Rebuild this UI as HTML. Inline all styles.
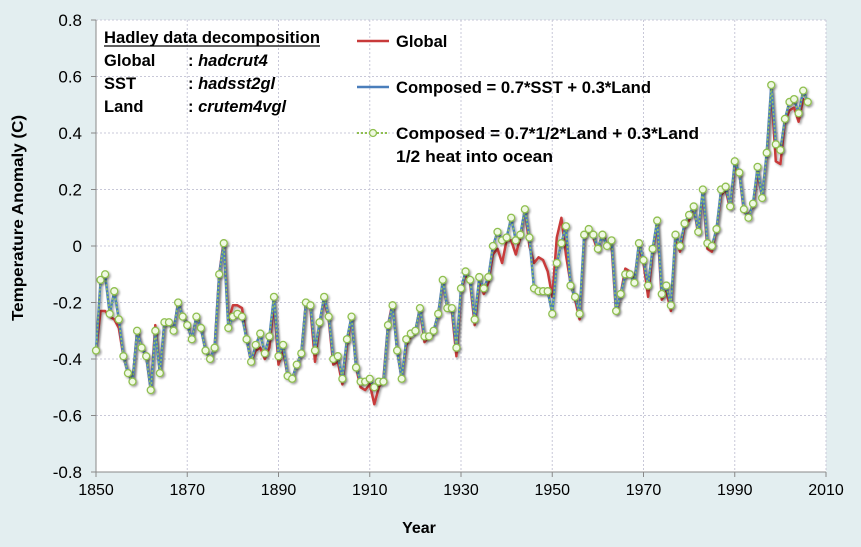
<!DOCTYPE html>
<html><head><meta charset="utf-8"><style>
html,body{margin:0;padding:0;}
body{width:861px;height:542px;background:#e3eef0;font-family:"Liberation Sans",sans-serif;overflow:hidden;}
svg text{font-family:"Liberation Sans",sans-serif;}
</style></head><body>
<svg id="chart" width="861" height="542" xmlns="http://www.w3.org/2000/svg">
<defs><filter id="sh" x="-50%" y="-50%" width="200%" height="200%"><feDropShadow dx="1.5" dy="1.5" stdDeviation="1" flood-color="#000" flood-opacity="0.35"/></filter></defs>
<rect x="96" y="20" width="730" height="452" fill="#fff"/>
<g id="grid"></g>
<g id="axes"></g>
<g id="series"></g>
<g font-weight="bold" font-size="16.5" fill="#000">
<text x="104" y="43" textLength="216" lengthAdjust="spacingAndGlyphs">Hadley data decomposition</text>
<line x1="104" y1="46" x2="320" y2="46" stroke="#000" stroke-width="1.3"/>
<text x="104" y="66">Global</text>
<text x="188" y="66">: <tspan font-style="italic">hadcrut4</tspan></text>
<text x="104" y="89">SST</text>
<text x="188" y="89">: <tspan font-style="italic">hadsst2gl</tspan></text>
<text x="104" y="112">Land</text>
<text x="188" y="112">: <tspan font-style="italic">crutem4vgl</tspan></text>
</g>
<g font-weight="bold" font-size="16.5">
<g><line x1="357" y1="41" x2="389" y2="41" stroke="#c83a3a" stroke-width="2.5"/><text x="396" y="47">Global</text></g>
<g><line x1="357" y1="87" x2="389" y2="87" stroke="#4a7ebb" stroke-width="2.5"/><text x="396" y="93" textLength="255" lengthAdjust="spacingAndGlyphs">Composed = 0.7*SST + 0.3*Land</text></g>
<g><line x1="357" y1="133" x2="389" y2="133" stroke="#8fbf4f" stroke-width="2" stroke-dasharray="2,2"/><circle cx="373" cy="133" r="3.5" fill="#eef8e0" stroke="#8fbf4f" stroke-width="1.3"/><text x="396" y="139" textLength="303" lengthAdjust="spacingAndGlyphs">Composed = 0.7*1/2*Land + 0.3*Land</text><text x="396" y="162" textLength="157" lengthAdjust="spacingAndGlyphs">1/2 heat into ocean</text></g>
</g>
<text x="419" y="533" font-size="16" font-weight="bold" text-anchor="middle">Year</text>
<text transform="translate(23,218) rotate(-90)" font-size="16" font-weight="bold" text-anchor="middle" textLength="206" lengthAdjust="spacingAndGlyphs">Temperature Anomaly (C)</text>
</svg>
<script>
const startYear = 1850;
const composed = [-0.37,-0.12,-0.10,-0.24,-0.16,-0.26,-0.39,-0.45,-0.48,-0.30,-0.36,-0.39,-0.51,-0.30,-0.45,-0.27,-0.27,-0.30,-0.20,-0.25,
-0.28,-0.33,-0.25,-0.29,-0.37,-0.40,-0.36,-0.10,0.01,-0.29,-0.25,-0.24,-0.25,-0.33,-0.41,-0.35,-0.31,-0.38,-0.32,-0.18,
-0.39,-0.35,-0.46,-0.47,-0.42,-0.38,-0.20,-0.21,-0.37,-0.27,-0.18,-0.25,-0.40,-0.39,-0.47,-0.33,-0.25,-0.43,-0.48,-0.48,
-0.47,-0.50,-0.48,-0.48,-0.28,-0.21,-0.37,-0.47,-0.33,-0.31,-0.30,-0.22,-0.32,-0.32,-0.30,-0.24,-0.12,-0.22,-0.22,-0.36,
-0.15,-0.09,-0.12,-0.26,-0.11,-0.15,-0.11,0.00,0.05,0.02,0.03,0.10,0.02,0.04,0.13,0.03,-0.15,-0.16,-0.16,-0.16,
-0.24,-0.06,0.01,0.07,-0.14,-0.18,-0.24,0.04,0.06,0.04,-0.01,0.04,0.00,0.02,-0.23,-0.17,-0.10,-0.10,-0.13,0.01,
-0.05,-0.14,-0.01,0.09,-0.17,-0.14,-0.21,0.04,0.00,0.08,0.11,0.14,0.05,0.20,0.01,0.00,0.06,0.20,0.21,0.14,
0.30,0.26,0.13,0.10,0.15,0.28,0.17,0.33,0.57,0.36,0.34,0.45,0.51,0.52,0.47,0.55,0.51];
const globalT = [-0.37,-0.23,-0.23,-0.25,-0.26,-0.29,-0.39,-0.45,-0.48,-0.30,-0.36,-0.39,-0.51,-0.28,-0.45,-0.27,-0.27,-0.30,-0.20,-0.25,
-0.28,-0.33,-0.25,-0.29,-0.37,-0.40,-0.36,-0.10,0.02,-0.27,-0.21,-0.21,-0.22,-0.33,-0.41,-0.37,-0.36,-0.40,-0.36,-0.20,
-0.42,-0.37,-0.46,-0.47,-0.42,-0.38,-0.20,-0.22,-0.41,-0.27,-0.19,-0.26,-0.42,-0.41,-0.49,-0.35,-0.25,-0.43,-0.50,-0.51,
-0.49,-0.56,-0.50,-0.47,-0.28,-0.20,-0.37,-0.47,-0.35,-0.32,-0.30,-0.22,-0.34,-0.32,-0.30,-0.24,-0.13,-0.22,-0.23,-0.39,
-0.16,-0.10,-0.13,-0.28,-0.13,-0.17,-0.13,-0.03,-0.01,-0.06,0.02,0.02,-0.03,0.03,0.13,0.00,-0.06,-0.04,-0.05,-0.09,
-0.18,0.03,0.10,-0.03,-0.13,-0.19,-0.26,0.03,0.06,0.03,-0.02,0.05,0.00,0.00,-0.24,-0.17,-0.08,-0.09,-0.12,0.00,
-0.06,-0.18,-0.02,0.08,-0.19,-0.16,-0.23,0.03,-0.02,0.07,0.09,0.14,0.04,0.19,-0.01,-0.02,0.06,0.18,0.20,0.13,
0.28,0.26,0.12,0.11,0.14,0.26,0.17,0.32,0.55,0.30,0.29,0.44,0.48,0.49,0.44,0.52,0.50];
const xTicks = [1850,1870,1890,1910,1930,1950,1970,1990,2010];
const yTicks = [-0.8,-0.6,-0.4,-0.2,0,0.2,0.4,0.6,0.8];
const NS='http://www.w3.org/2000/svg';
const X0=96,X1=826,Y0=472,Y1=20;
function sx(yr){return X0+(yr-1850)/(2010-1850)*(X1-X0);}
function sy(v){return Y0-(v+0.8)/1.6*(Y0-Y1);}
function mk(tag,attrs,parent){const e=document.createElementNS(NS,tag);for(const k in attrs)e.setAttribute(k,attrs[k]);parent.appendChild(e);return e;}
const grid=document.getElementById('grid'),axes=document.getElementById('axes'),ser=document.getElementById('series');
yTicks.forEach(t=>{
  if(t>-0.8){const g=mk('line',{x1:X0,x2:X1,y1:sy(t),y2:sy(t),stroke:'#c8c8d8','stroke-dasharray':'2,2'},grid);
  
  }
  const tk=mk('line',{x1:X0-5,x2:X0,y1:sy(t),y2:sy(t),stroke:'#888'},axes);
  
  
  const tx=mk('text',{x:X0-14,y:sy(t)+6,'text-anchor':'end','font-size':'17',fill:'#000'},axes);
  tx.textContent=t===0?'0':t.toFixed(1);
  
  
});
xTicks.forEach(t=>{
  if(t>1850){const g=mk('line',{x1:sx(t),x2:sx(t),y1:Y1,y2:Y0,stroke:'#c8c8d8','stroke-dasharray':'2,2'},grid);
  
  }
  const tk=mk('line',{x1:sx(t),x2:sx(t),y1:Y0,y2:Y0+5,stroke:'#888'},axes);
  
  
  const tx=mk('text',{x:sx(t),y:Y0+23,'text-anchor':'middle','font-size':'16',fill:'#000'},axes);
  tx.textContent=t;
  
  
});
const ax1=mk('line',{x1:X0,x2:X0,y1:Y1,y2:Y0,stroke:'#888'},axes);


const ax2=mk('line',{x1:X0,x2:X1,y1:Y0,y2:Y0,stroke:'#888'},axes);


function pts(arr){return arr.map((v,i)=>sx(startYear+i).toFixed(1)+','+sy(v).toFixed(1)).join(' ');}
const gl=mk('polyline',{points:pts(globalT),fill:'none',stroke:'#c83a3a','stroke-width':2.5,'stroke-linejoin':'round',filter:'url(#sh)'},ser);


const cl=mk('polyline',{points:pts(composed),fill:'none',stroke:'#4a7ebb','stroke-width':2.5,'stroke-linejoin':'round',filter:'url(#sh)'},ser);


const hl=mk('polyline',{points:pts(composed),fill:'none',stroke:'#9bc95a','stroke-width':1.5,'stroke-dasharray':'2,2'},ser);


composed.forEach((v,i)=>{
  const c=mk('circle',{cx:sx(startYear+i),cy:sy(v),r:3.5,fill:'#f0f9e4',stroke:'#8fbf4f','stroke-width':1.3,filter:'url(#sh)'},ser);
  
  
});
</script>
</body></html>
